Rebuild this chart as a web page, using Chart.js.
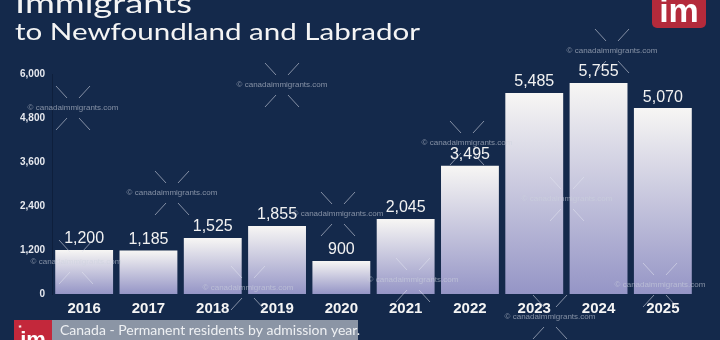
<!DOCTYPE html>
<html>
<head>
<meta charset="utf-8">
<script src="https://cdn.jsdelivr.net/npm/chart.js@4.4.1/dist/chart.umd.min.js"></script>
<style>
  html, body { margin: 0; padding: 0; background: #14294b; }
  #wrap { width: 720px; height: 340px; position: relative; }
</style>
</head>
<body>
<div id="wrap"><canvas id="chart" width="720" height="340"></canvas></div>
<script>
// admission years and permanent residents
const years = ["2016", "2017", "2018", "2019", "2020", "2021", "2022", "2023", "2024", "2025"];
const residents = [1200, 1185, 1525, 1855, 900, 2045, 3495, 5485, 5755, 5070];
const yTicks = [0, 1200, 2400, 3600, 4800, 6000];

// watermark spots (x, y)
const stampX = [73, 282, 172, 338, 76, 248, 467, 612, 567, 660, 550, 413];
const stampY = [108, 85, 193, 214, 262, 288, 143, 51, 199, 285, 317, 280];

const BG = "#14294b";
const fmt = new Intl.NumberFormat("en-US");

// per bar vertical gradient, white on top to lavender at the base
function barFill(ctx) {
  const chart = ctx.chart;
  const y = chart.scales.y;
  if (!y || !chart.chartArea || ctx.dataIndex === undefined) return "#e0e0ee";
  const top = y.getPixelForValue(ctx.raw);
  const base = y.getPixelForValue(0);
  if (!isFinite(top) || !isFinite(base) || top === base) return "#e0e0ee";
  const g = chart.ctx.createLinearGradient(0, top, 0, base);
  g.addColorStop(0, "#f7f6f4");
  g.addColorStop(1, "#9595c6");
  return g;
}

// text squeezed or stretched to a given width
function fitText(c, text, x, y, width) {
  const w = c.measureText(text).width;
  c.save();
  c.translate(x, y);
  c.scale(width / w, 1);
  c.fillText(text, 0, 0);
  c.restore();
}

// background fill
const bgPlugin = {
  id: "bg",
  beforeDraw(chart) {
    const c = chart.ctx;
    c.save();
    c.fillStyle = BG;
    c.fillRect(0, 0, chart.width, chart.height);
    c.restore();
  },
};

// numbers above bars
const valueLabels = {
  id: "valueLabels",
  afterDatasetsDraw(chart) {
    const c = chart.ctx;
    const meta = chart.getDatasetMeta(0);
    c.save();
    c.fillStyle = "#f2f2f2";
    c.font = "16px 'Liberation Sans', Arial, sans-serif";
    c.textAlign = "center";
    c.textBaseline = "bottom";
    meta.data.forEach((bar, i) => {
      c.fillText(fmt.format(residents[i]), bar.x, bar.y - 3);
    });
    c.restore();
  },
};

// headings, logos, caption and watermarks
const decor = {
  id: "decor",
  afterDraw(chart) {
    const c = chart.ctx;
    c.save();
    // title
    c.fillStyle = "#f4f4f4";
    c.textAlign = "left";
    c.textBaseline = "alphabetic";
    c.font = "26px 'Lato', sans-serif";
    fitText(c, "Immigrants", 15, 13, 177);
    c.font = "24px 'Lato', sans-serif";
    fitText(c, "to Newfoundland and Labrador", 15, 40, 405);

    // top right logo
    c.fillStyle = "#b42a3b";
    c.beginPath();
    c.roundRect(652, -10, 54, 38, 5);
    c.fill();
    c.fillStyle = "#ffffff";
    c.font = "bold 34px 'Liberation Sans', sans-serif";
    c.textAlign = "center";
    c.fillText("im", 679, 22);

    // caption strip
    c.fillStyle = "#8b95a5";
    c.fillRect(52, 320, 306, 20);
    c.fillStyle = "#c3283b";
    c.fillRect(14, 320, 38, 20);
    c.fillStyle = "#ffffff";
    c.font = "bold 22px 'Liberation Sans', sans-serif";
    c.fillText("im", 33, 347);
    c.font = "bold 8px 'Liberation Sans', sans-serif";
    c.fillText("*", 20, 330);
    c.fillStyle = "#eef0f3";
    c.textAlign = "left";
    c.font = "14px 'Lato', sans-serif";
    c.fillText("Canada - Permanent residents by admission year.", 60, 335);

    // watermarks
    c.strokeStyle = "rgba(225,228,238,0.55)";
    c.lineWidth = 1;
    c.font = "8px 'Liberation Sans', sans-serif";
    c.textAlign = "center";
    c.textBaseline = "middle";
    stampX.forEach((x, i) => {
      const y = stampY[i];
      c.beginPath();
      [[-1, -1], [1, -1], [-1, 1], [1, 1]].forEach(([sx, sy]) => {
        c.moveTo(x + sx * 6, y + sy * 10);
        c.lineTo(x + sx * 17, y + sy * 22);
      });
      c.stroke();
      c.fillStyle = "rgba(205,210,222,0.6)";
      c.fillText("\u00a9 canadaimmigrants.com", x, y);
    });
    c.restore();
  },
};

new Chart(document.getElementById("chart"), {
  type: "bar",
  data: {
    labels: years,
    datasets: [
      {
        data: residents,
        backgroundColor: barFill,
        borderWidth: 0,
        barPercentage: 0.9,
        categoryPercentage: 1.0,
      },
    ],
  },
  options: {
    responsive: false,
    animation: false,
    layout: { padding: { top: 74, right: 25, bottom: 0, left: 0 } },
    plugins: {
      legend: { display: false },
      tooltip: { enabled: false },
    },
    scales: {
      x: {
        grid: { display: false, drawTicks: false },
        border: { display: false },
        ticks: {
          color: "#f4f4f4",
          padding: 6,
          font: { family: "'Liberation Sans', Arial, sans-serif", size: 15, weight: "bold" },
        },
        afterFit(scale) { scale.height = 46; },
      },
      y: {
        min: 0,
        max: 6000,
        afterBuildTicks(scale) { scale.ticks = yTicks.map((v) => ({ value: v })); },
        grid: { display: false, drawTicks: false },
        border: { display: true, color: "rgba(10,25,50,0.6)" },
        ticks: {
          color: "#e6e8ee",
          padding: 7,
          font: { family: "'Liberation Sans', Arial, sans-serif", size: 10, weight: "bold" },
          callback: (v) => fmt.format(v),
        },
        afterFit(scale) { scale.width = 52; },
      },
    },
  },
  plugins: [bgPlugin, valueLabels, decor],
});
</script>
</body>
</html>
